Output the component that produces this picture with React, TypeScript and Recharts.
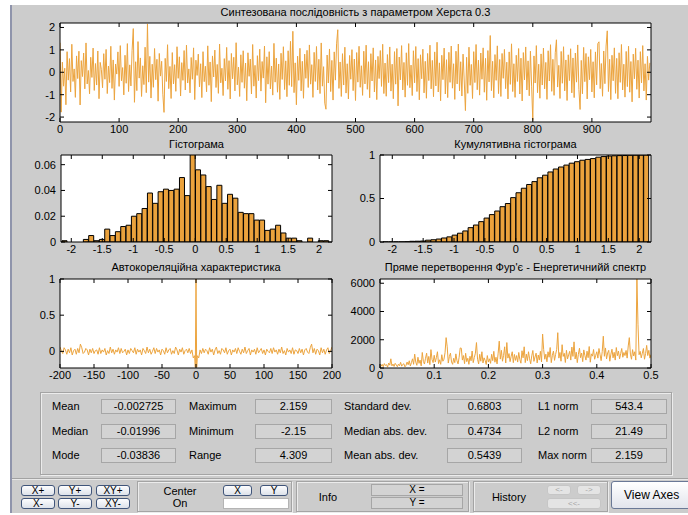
import React from 'react'
import { Bar, ComposedChart, Line, LineChart, XAxis, YAxis } from 'recharts'

// synthesized series, every 2nd sample (index 0..998)
const signal = [
  1.32, -1.78, 0.45, -0.62, 0.18, -1.45, 0.92, -0.35, 0.61, -0.88, 1.25, -0.41, 0.15, -1.12, 0.73, -0.28, 0.94, -1.46, 0.52, -0.19,
  0.86, -0.74, 1.31, -0.52, 0.08, -0.96, 0.67, -0.23, 1.08, -0.81, 0.39, -0.57, 0.95, -1.18, 0.44, 0.12, -0.69, 0.83, -0.31, 1.02,
  -0.95, 0.28, -0.46, 1.16, -0.72, 0.55, -1.24, 0.37, -0.08, 0.91, -0.63, 1.19, -0.38, 0.21, -1.01, 0.76, -0.49, 1.28, -0.86, 0.33,
  -0.61, 0.98, 1.95, -1.34, 0.47, -0.82, 1.37, -0.26, 0.64, -1.08, 0.29, -0.55, 1.12, -0.91, 2.159, -0.44, 0.71, -1.15, 0.36, -0.67,
  1.06, -0.33, 0.58, -1.29, 0.84, -0.17, 0.49, -0.98, -1.79, 0.62, -0.41, 1.23, -0.73, 0.26, -1.17, 0.88, -0.52, 0.34, -0.85, 1.14,
  -0.27, 0.69, -1.06, 0.43, -0.36, 0.97, -0.79, 1.21, -0.48, 0.15, -0.92, 0.66, -0.31, 1.09, -1.22, 0.54, -0.14, 0.81, -0.65, 0.38,
  -1.13, 0.92, -0.42, 0.27, -0.87, 1.18, -0.58, 0.46, -1.31, 0.73, -0.21, 0.99, -0.68, 0.35, -0.94, 1.26, -0.47, 0.18, -1.04, 0.61,
  -0.39, 1.11, -0.76, 0.52, -1.19, 0.84, -0.29, 0.67, -0.83, 1.32, -0.56, 0.23, -1.08, 0.78, -0.45, 0.96, -0.71, 0.41, -1.27, 0.87,
  -0.18, 0.59, -0.97, 1.24, -0.62, 0.31, -1.15, 0.74, -0.37, 1.03, -0.84, 0.48, -0.26, 1.17, -1.36, 0.69, -0.53, 0.92, -0.74, 0.28,
  -1.02, 1.29, -0.44, 0.63, -0.89, 0.37, -1.21, 0.85, -0.32, 1.14, -0.77, 0.51, -1.09, 0.96, -0.58, 1.38, -0.64, 1.83, -0.91, 0.42,
  -1.45, 0.72, -0.36, 1.07, -0.83, 0.49, -1.16, 0.81, -0.27, 0.98, -0.68, 1.22, -0.53, 0.34, -1.12, 0.89, -0.41, 1.15, -0.79, 0.58,
  -0.95, 1.31, -0.62, 0.25, -1.38, -1.65, 0.77, -0.48, 1.04, -0.86, 0.53, -1.24, 0.91, -0.35, 1.27, 1.9, -0.72, 0.46, -1.08, 0.83,
  -0.57, 1.12, -0.93, 0.38, -1.19, 0.75, -0.31, 1.01, -0.82, 0.59, -1.26, 0.88, -0.44, 1.16, -0.67, 0.29, -1.03, 0.94, -0.52, 1.21,
  -0.76, 0.47, -1.14, 0.83, -0.39, 1.09, -0.88, 0.55, -1.22, 0.71, -0.28, 0.97, -0.63, 1.25, -0.95, 0.41, -1.07, 0.79, -0.46, 1.13,
  -0.84, 0.36, -1.18, 0.92, -0.53, 1.06, -1.5, 0.68, -0.34, 1.19, -0.79, 0.44, -1.11, 0.87, -0.58, 1.28, -0.69, 0.32, -1.04, 0.96,
  -0.47, 1.15, -0.86, 0.61, -1.23, 0.78, -0.29, 1.03, -0.92, 0.49, -1.16, 0.84, -0.37, 1.21, -0.74, 0.53, -1.09, 0.91, -0.61, 1.34,
  -0.88, 0.42, -1.27, 0.76, -0.33, 1.08, -0.97, 0.56, -1.13, 0.89, -0.45, 1.17, -0.71, 0.38, -1.21, 0.94, -0.52, 1.26, -0.83, 0.47,
  -1.06, 0.81, -0.39, -1.71, 0.67, -0.94, 1.12, -0.58, 0.35, -1.17, 0.92, -0.46, 1.24, -0.78, 0.54, -1.02, 0.86, -0.31, 1.09, -0.89,
  0.62, -1.25, 0.97, -0.43, 1.64, -0.82, 0.49, -1.14, 0.79, -0.36, 1.18, -0.95, 0.57, -1.08, 0.84, -0.27, 1.02, -0.73, 0.45, -1.19,
  0.91, -0.54, 1.27, -0.86, 0.38, -1.12, 0.76, -0.41, 1.06, -0.97, 0.63, -1.28, 0.88, -0.34, 1.13, -0.79, 0.51, -1.05, 0.94, -0.62,
  -2.15, 0.73, -0.48, 1.19, -0.91, 0.36, -1.16, 0.82, -0.57, 1.08, -0.74, 0.44, -1.21, 0.96, -0.39, 1.23, -0.85, 0.58, -1.03, 0.87,
  1.45, -0.66, 0.31, -1.17, 0.93, -0.49, 1.14, -0.83, 0.55, -1.26, 0.78, -0.37, 1.05, -0.92, 0.64, -1.13, 0.86, -0.44, 1.22, -0.77,
  -1.66, 0.53, -0.96, 1.11, -0.42, 0.84, -1.19, 0.69, -0.33, 1.02, -0.88, 0.47, -1.14, 0.91, -0.56, 1.28, 1.36, -0.73, 0.39, -1.07,
  0.95, -0.51, 1.17, 1.85, -0.86, 0.58, -1.22, 0.76, -0.38, 1.09, -0.94, 0.62, -1.18, 0.87, -0.45, 1.24, -0.79, 0.36, -1.11, 0.93,
  -0.64, 1.16, -0.89, 0.48, -1.32, 0.81, -0.29, 1.07, -0.76, 0.54, -1.15, 0.92, -0.47, 1.19, -0.83, 0.38, -1.24, 0.71, -0.35, 0.42,
]
const signalXTicks = [0, 100, 200, 300, 400, 500, 600, 700, 800, 900]
const signalYTicks = [-2, -1, 0, 1, 2]

// histogram, 50 bins between min and max
const histHeights = [
  0.001, 0, 0, 0, 0.002, 0.005, 0.001, 0.002, 0.01, 0.005,
  0.008, 0.012, 0.013, 0.02, 0.022, 0.026, 0.038, 0.03, 0.039, 0.041,
  0.04, 0.041, 0.05, 0.036, 0.068, 0.056, 0.052, 0.043, 0.033, 0.044,
  0.03, 0.037, 0.034, 0.023, 0.022, 0.022, 0.017, 0.017, 0.009, 0.01,
  0.013, 0.007, 0.003, 0.003, 0.001, 0, 0.003, 0, 0.001, 0.001,
]
const cumHeights = [
  0.001, 0.001, 0.001, 0.001, 0.003, 0.008, 0.009, 0.011, 0.021, 0.026,
  0.034, 0.046, 0.059, 0.079, 0.101, 0.127, 0.165, 0.195, 0.234, 0.275,
  0.315, 0.356, 0.406, 0.442, 0.51, 0.566, 0.618, 0.661, 0.694, 0.738,
  0.768, 0.805, 0.839, 0.862, 0.884, 0.906, 0.923, 0.94, 0.949, 0.959,
  0.975, 0.982, 0.988, 0.991, 0.993, 0.994, 0.997, 0.998, 0.999, 1,
]
const histXTicks = [-2, -1.5, -1, -0.5, 0, 0.5, 1, 1.5, 2]
const histYTicks = [0, 0.02, 0.04, 0.06]
const cumYTicks = [0, 0.5, 1]

// autocorrelation, lags 2..200 step 2 (symmetric around 0)
const acfRight = [
  -0.06, -0.09, 0.02, -0.03, 0.04, -0.02, 0.03, 0.01, -0.04, 0.05,
  -0.01, 0.03, -0.05, 0.02, 0.06, -0.03, 0.01, -0.04, 0.04, 0.02,
  -0.02, 0.05, -0.04, 0.01, 0.03, -0.05, 0.02, -0.01, 0.04, -0.03,
  0.05, 0.0, -0.04, 0.03, -0.02, 0.06, -0.03, 0.01, 0.04, -0.05,
  0.02, -0.01, 0.03, -0.04, 0.05, -0.02, 0.01, 0.04, -0.03, 0.02,
  -0.05, 0.03, 0.0, -0.02, 0.04, -0.03, 0.05, -0.01, 0.02, -0.04,
  0.03, -0.02, 0.06, -0.03, 0.01, -0.05, 0.04, -0.01, 0.02, -0.03,
  0.05, -0.04, 0.02, 0.01, -0.03, 0.04, -0.02, 0.03, -0.05, 0.02,
  0.04, -0.01, -0.03, 0.05, 0.1, -0.02, 0.04, -0.04, 0.03, 0.01,
  -0.05, 0.05, -0.02, 0.03, -0.04, 0.02, 0.05, -0.03, 0.01, 0.06,
]
const acfCenter = [-0.22, 1, -0.22] // lags -1, 0, 1
const acfXTicks = [-200, -150, -100, -50, 0, 50, 100, 150, 200]
const acfYTicks = [0, 0.5, 1]

// energy spectrum, frequency 0..0.5 step 0.002
const spectrum = [
  50,
  120, 260, 90, 310, 180, 240, 60, 350, 200, 650, 150, 280, 110, 330, 220, 90, 270, 160, 400, 130, 250, 300, 80, 190, 420,
  230, 510, 140, 380, 650, 260, 980, 420, 190, 760, 330, 560, 150, 1100, 470, 280, 690, 1050, 350, 820, 240, 1300, 600, 380, 900,
  420, 730, 1150, 310, 580, 260, 940, 480, 620, 1080, 2150, 1500, 350, 820, 1050, 430, 260, 690, 380, 1000, 520, 290, 760, 1420, 1400,
  560, 880, 310, 1040, 450, 690, 260, 830, 510, 1200, 380, 740, 1050, 1800, 620, 290, 970, 480, 1150, 360, 720, 540, 250, 880, 420,
  650, 330, 970, 520, 1180, 410, 760, 290, 1050, 1900, 630, 1250, 480, 890, 1500, 360, 1800, 700, 1020, 450, 830, 1150, 380, 960, 540,
  880, 420, 1100, 600, 340, 1220, 720, 1500, 380, 980, 520, 1150, 650, 300, 860, 1240, 470, 780, 1050, 360, 920, 560, 1180, 430, 2400,
  1300, 620, 980, 440, 1150, 760, 1450, 380, 890, 1200, 540, 960, 1320, 2500, 700, 1100, 480, 1650, 820, 1040, 390, 1250, 640, 930, 1180,
  560, 1480, 820, 1850, 640, 1120, 380, 970, 1400, 730, 1060, 450, 1280, 880, 560, 1190, 730, 1520, 410, 1000, 840, 1310, 620, 900, 1150,
  700, 1380, 950, 520, 1160, 2250, 830, 1420, 640, 1060, 1250, 480, 980, 1330, 720, 1110, 560, 1450, 870, 1200, 650, 1020, 1380, 760, 1100,
  880, 1240, 700, 1560, 2150, 980, 620, 1300, 850, 1150, 560, 6300, 3100, 940, 1180, 720, 1050, 1380, 620, 1020, 1600, 880, 1250, 700, 950,
]
const specXTicks = [0, 0.1, 0.2, 0.3, 0.4, 0.5]
const specYTicks = [0, 2000, 4000, 6000]

const statNames = [
  ['Mean', 'Median', 'Mode'],
  ['Maximum', 'Minimum', 'Range'],
  ['Standard dev.', 'Median abs. dev.', 'Mean abs. dev.'],
  ['L1 norm', 'L2 norm', 'Max norm'],
]
const statValues = [
  ['-0.002725', '-0.01996', '-0.03836'],
  ['2.159', '-2.15', '4.309'],
  ['0.6803', '0.4734', '0.5439'],
  ['543.4', '21.49', '2.159'],
]

const FONT = '"Liberation Sans", Arial, sans-serif'
const BG = '#cccccc'
const ORANGE = '#eca43e'
const BAR = '#eba23c'
const YW = 50
const XH = 20
const PAD_T = 8
const PAD_R = 14

const dataMin = -2.15
const dataMax = 2.159
const binW = (dataMax - dataMin) / histHeights.length
const histData = histHeights.map((h, i) => ({ c: String(i), x: dataMin + (i + 0.5) * binW, h, cum: cumHeights[i] }))
const signalData = signal.map((v, k) => ({ i: k * 2, v }))
const acfData = [
  ...acfRight.map((v, k) => ({ lag: -(k + 1) * 2, v })).reverse(),
  ...acfCenter.map((v, k) => ({ lag: k - 1, v })),
  ...acfRight.map((v, k) => ({ lag: (k + 1) * 2, v })),
]
const specData = spectrum.map((v, k) => ({ f: k * 0.002, v }))

const tickFont = { fontSize: 11, fill: '#000', fontFamily: FONT }
const noLabel = () => <g />
const axisBase = {
  type: 'number' as const,
  allowDataOverflow: true,
  interval: 0 as const,
  tickSize: -4,
  axisLine: { stroke: '#000', strokeWidth: 1 },
  tickLine: { stroke: '#000', strokeWidth: 1 },
}

type Frame = { left: number; top: number; w: number; h: number }
const sigF: Frame = { left: 60, top: 23, w: 591, h: 99 }
const histF: Frame = { left: 61, top: 155, w: 271, h: 87 }
const cumF: Frame = { left: 380, top: 155, w: 271, h: 87 }
const acfF: Frame = { left: 60, top: 279, w: 272, h: 89 }
const specF: Frame = { left: 380, top: 279, w: 271, h: 89 }

const abs = (l: number, t: number, w: number, h: number): React.CSSProperties => ({
  position: 'absolute', left: l, top: t, width: w, height: h, boxSizing: 'border-box',
})

function Plot({ f, title, titleY, children }: { f: Frame; title: string; titleY: number; children: React.ReactNode }) {
  return (
    <>
      <div style={{ ...abs(f.left, f.top, f.w, f.h), background: '#fff' }} />
      <div style={{ position: 'absolute', left: f.left - 40, width: f.w + 80, top: titleY - 7, fontSize: 11, lineHeight: '14px', textAlign: 'center' }}>
        {title}
      </div>
      <div style={{ position: 'absolute', left: f.left - YW, top: f.top - 1 - PAD_T }}>{children}</div>
    </>
  )
}

const size = (f: Frame) => ({
  width: YW + f.w + 1 + PAD_R,
  height: PAD_T + 1 + f.h + XH,
  margin: { top: PAD_T, right: PAD_R, bottom: 0, left: 0 },
})

function Btn({ x, y, w, h, label, off }: { x: number; y: number; w: number; h: number; label: string; off?: boolean }) {
  return (
    <div
      style={{
        ...abs(x, y, w, h),
        border: off ? '1px solid #c6c6c6' : '1px solid #40557a',
        borderRadius: 3,
        background: off ? '#e4e4e4' : 'linear-gradient(#fdfdfe, #dde2ea)',
        color: off ? '#a6a6a6' : '#000',
        fontSize: off ? 8 : 10,
        lineHeight: `${h - 2}px`,
        textAlign: 'center',
      }}
    >
      {label}
    </div>
  )
}

const groupBox: React.CSSProperties = { border: '1px solid #a4a4a4', boxShadow: 'inset 1px 1px 0 #ececec, 1px 1px 0 #ececec' }
const valBox: React.CSSProperties = { background: '#d3d3d3', border: '1px solid #a6a6a6', fontSize: 11, textAlign: 'center' }

const statLabelX = [52, 189, 344, 538]
const statBoxX = [101, 255, 447, 591]
const statBoxW = [75, 77, 75, 76]
const statRowTop = [399, 424, 448]

export default function App() {
  return (
    <div style={{ position: 'absolute', left: 0, top: 0, width: 688, height: 515, background: '#fff', overflow: 'hidden', fontFamily: FONT, color: '#000' }}>
      <div style={{ ...abs(12, 5, 676, 508), background: BG }} />
      <div style={{ ...abs(10, 5, 2, 508), background: '#8f94ab' }} />

      <Plot f={sigF} title="Синтезована послідовність з параметром Херста 0.3" titleY={12}>
        <LineChart data={signalData} {...size(sigF)}>
          <XAxis xAxisId="b" dataKey="i" {...axisBase} domain={[0, 1000]} ticks={signalXTicks} height={XH} tickMargin={7} tick={tickFont} />
          <XAxis xAxisId="t" dataKey="i" orientation="top" {...axisBase} domain={[0, 1000]} ticks={signalXTicks} height={1} tick={noLabel} />
          <YAxis yAxisId="l" {...axisBase} domain={[-2.22, 2.2]} ticks={signalYTicks} width={YW} tickMargin={9} tick={tickFont} />
          <YAxis yAxisId="r" orientation="right" {...axisBase} domain={[-2.22, 2.2]} ticks={signalYTicks} width={1} tick={noLabel} />
          <Line xAxisId="b" yAxisId="l" dataKey="v" stroke={ORANGE} strokeWidth={1} dot={false} isAnimationActive={false} />
          <Line xAxisId="t" yAxisId="r" dataKey="v" stroke="none" dot={false} isAnimationActive={false} />
        </LineChart>
      </Plot>

      <Plot f={histF} title="Гістограма" titleY={144}>
        <ComposedChart data={histData} {...size(histF)} barCategoryGap={0} barGap={0}>
          <XAxis xAxisId="c" dataKey="c" type="category" hide padding={{ left: 1, right: 3 }} />
          <XAxis xAxisId="b" dataKey="x" {...axisBase} domain={[-2.166, 2.207]} ticks={histXTicks} height={XH} tickMargin={7} tick={tickFont} />
          <XAxis xAxisId="t" dataKey="x" orientation="top" {...axisBase} domain={[-2.166, 2.207]} ticks={histXTicks} height={1} tick={noLabel} />
          <YAxis yAxisId="l" {...axisBase} domain={[0, 0.0675]} ticks={histYTicks} width={YW} tickMargin={9} tick={tickFont} />
          <YAxis yAxisId="r" orientation="right" {...axisBase} domain={[0, 0.0675]} ticks={histYTicks} width={1} tick={noLabel} />
          <Bar xAxisId="c" yAxisId="l" dataKey="h" fill={BAR} stroke="#000" strokeWidth={1} isAnimationActive={false} />
          <Line xAxisId="b" yAxisId="l" dataKey="h" stroke="none" dot={false} isAnimationActive={false} />
          <Line xAxisId="t" yAxisId="r" dataKey="h" stroke="none" dot={false} isAnimationActive={false} />
        </ComposedChart>
      </Plot>

      <Plot f={cumF} title="Кумулятивна гістограма" titleY={144}>
        <ComposedChart data={histData} {...size(cumF)} barCategoryGap={0} barGap={0}>
          <XAxis xAxisId="c" dataKey="c" type="category" hide padding={{ left: 3, right: 2 }} />
          <XAxis xAxisId="b" dataKey="x" {...axisBase} domain={[-2.199, 2.191]} ticks={histXTicks} height={XH} tickMargin={7} tick={tickFont} />
          <XAxis xAxisId="t" dataKey="x" orientation="top" {...axisBase} domain={[-2.199, 2.191]} ticks={histXTicks} height={1} tick={noLabel} />
          <YAxis yAxisId="l" {...axisBase} domain={[0, 1]} ticks={cumYTicks} width={YW} tickMargin={9} tick={tickFont} />
          <YAxis yAxisId="r" orientation="right" {...axisBase} domain={[0, 1]} ticks={cumYTicks} width={1} tick={noLabel} />
          <Bar xAxisId="c" yAxisId="l" dataKey="cum" fill={BAR} stroke="#000" strokeWidth={1} isAnimationActive={false} />
          <Line xAxisId="b" yAxisId="l" dataKey="cum" stroke="none" dot={false} isAnimationActive={false} />
          <Line xAxisId="t" yAxisId="r" dataKey="cum" stroke="none" dot={false} isAnimationActive={false} />
        </ComposedChart>
      </Plot>

      <Plot f={acfF} title="Автокореляційна характеристика" titleY={267}>
        <LineChart data={acfData} {...size(acfF)}>
          <XAxis xAxisId="b" dataKey="lag" {...axisBase} domain={[-200, 200]} ticks={acfXTicks} height={XH} tickMargin={7} tick={tickFont} />
          <XAxis xAxisId="t" dataKey="lag" orientation="top" {...axisBase} domain={[-200, 200]} ticks={acfXTicks} height={1} tick={noLabel} />
          <YAxis yAxisId="l" {...axisBase} domain={[-0.23, 1]} ticks={acfYTicks} width={YW} tickMargin={9} tick={tickFont} />
          <YAxis yAxisId="r" orientation="right" {...axisBase} domain={[-0.23, 1]} ticks={acfYTicks} width={1} tick={noLabel} />
          <Line xAxisId="b" yAxisId="l" dataKey="v" stroke={ORANGE} strokeWidth={1} dot={false} isAnimationActive={false} />
          <Line xAxisId="t" yAxisId="r" dataKey="v" stroke="none" dot={false} isAnimationActive={false} />
        </LineChart>
      </Plot>

      <Plot f={specF} title="Пряме перетворення Фур'є - Енергетичнийй спектр" titleY={267}>
        <LineChart data={specData} {...size(specF)}>
          <XAxis xAxisId="b" dataKey="f" {...axisBase} domain={[0, 0.5]} ticks={specXTicks} height={XH} tickMargin={7} tick={tickFont} />
          <XAxis xAxisId="t" dataKey="f" orientation="top" {...axisBase} domain={[0, 0.5]} ticks={specXTicks} height={1} tick={noLabel} />
          <YAxis yAxisId="l" {...axisBase} domain={[0, 6300]} ticks={specYTicks} width={YW} tickMargin={9} tick={tickFont} />
          <YAxis yAxisId="r" orientation="right" {...axisBase} domain={[0, 6300]} ticks={specYTicks} width={1} tick={noLabel} />
          <Line xAxisId="b" yAxisId="l" dataKey="v" stroke={ORANGE} strokeWidth={1} dot={false} isAnimationActive={false} />
          <Line xAxisId="t" yAxisId="r" dataKey="v" stroke="none" dot={false} isAnimationActive={false} />
        </LineChart>
      </Plot>

      {/* statistics panel */}
      <div style={{ ...abs(40, 392, 632, 83), ...groupBox }} />
      {statNames.map((col, c) =>
        col.map((name, r) => (
          <React.Fragment key={`${c}-${r}`}>
            <div style={{ position: 'absolute', left: statLabelX[c], top: statRowTop[r], height: 14, fontSize: 11, lineHeight: '14px', whiteSpace: 'nowrap' }}>{name}</div>
            <div style={{ ...abs(statBoxX[c], statRowTop[r], statBoxW[c], 15), ...valBox, lineHeight: '13px' }}>{statValues[c][r]}</div>
          </React.Fragment>
        )),
      )}

      {/* toolbar */}
      <div style={{ ...abs(12, 478, 676, 1), background: '#a2a2a2' }} />
      <div style={{ ...abs(12, 479, 676, 1), background: '#e8e8e8' }} />
      <Btn x={21} y={485} w={34} h={11} label="X+" />
      <Btn x={58} y={485} w={34} h={11} label="Y+" />
      <Btn x={96} y={485} w={34} h={11} label="XY+" />
      <Btn x={21} y={498} w={34} h={11} label="X-" />
      <Btn x={58} y={498} w={34} h={11} label="Y-" />
      <Btn x={96} y={498} w={34} h={11} label="XY-" />

      <div style={{ ...abs(137, 481, 155, 31), ...groupBox }} />
      <div style={{ position: 'absolute', left: 150, width: 60, top: 485, fontSize: 11, lineHeight: '12px', textAlign: 'center' }}>Center</div>
      <div style={{ position: 'absolute', left: 150, width: 60, top: 497, fontSize: 11, lineHeight: '12px', textAlign: 'center' }}>On</div>
      <Btn x={223} y={485} w={29} h={11} label="X" />
      <Btn x={260} y={485} w={28} h={11} label="Y" />
      <div style={{ ...abs(223, 498, 66, 11), background: '#fff', border: '1px solid #b4b4b4' }} />

      <div style={{ ...abs(296, 481, 173, 31), ...groupBox }} />
      <div style={{ position: 'absolute', left: 308, width: 40, top: 490, fontSize: 11, lineHeight: '14px', textAlign: 'center' }}>Info</div>
      <div style={{ ...abs(371, 484, 92, 12), ...valBox, lineHeight: '10px', fontSize: 10 }}>X =</div>
      <div style={{ ...abs(371, 497, 92, 12), ...valBox, lineHeight: '10px', fontSize: 10 }}>Y =</div>

      <div style={{ ...abs(473, 481, 135, 31), ...groupBox }} />
      <div style={{ position: 'absolute', left: 484, width: 50, top: 490, fontSize: 11, lineHeight: '14px', textAlign: 'center' }}>History</div>
      <Btn x={547} y={485} w={24} h={10} label="<-" off />
      <Btn x={577} y={485} w={24} h={10} label="->" off />
      <Btn x={547} y={498} w={54} h={11} label="<<-" off />

      <div
        style={{
          ...abs(611, 481, 80, 28),
          border: '1px solid #6a7896',
          borderRadius: 3,
          background: 'linear-gradient(#ffffff, #e2e4ec)',
          fontSize: 12,
          lineHeight: '26px',
          paddingLeft: 12,
        }}
      >
        View Axes
      </div>
    </div>
  )
}
